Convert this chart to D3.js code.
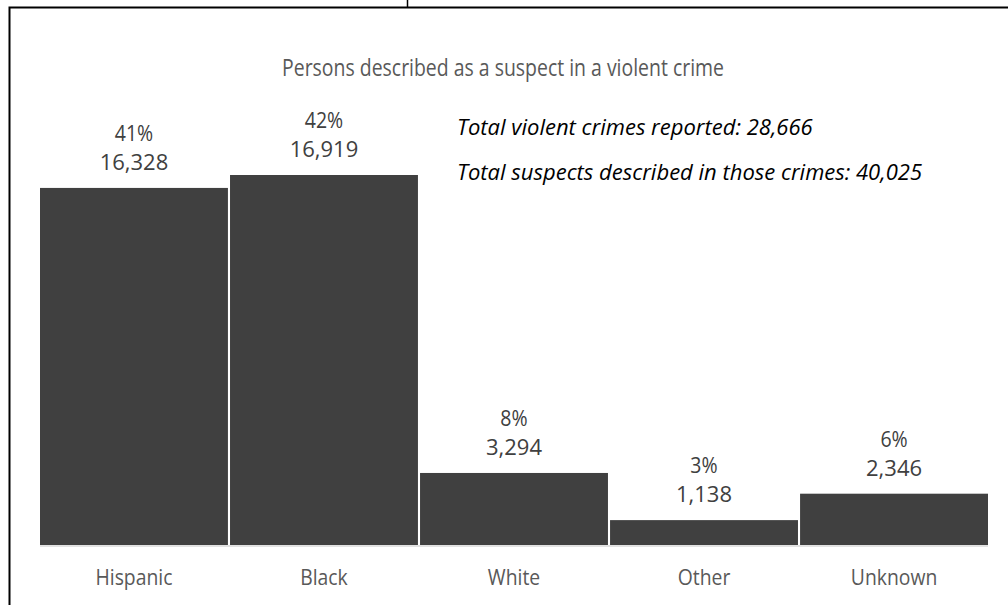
<!DOCTYPE html>
<html>
<head>
<meta charset="utf-8">
<script src="https://cdn.jsdelivr.net/npm/d3@7/dist/d3.min.js"></script>
<style>
  html, body { margin: 0; padding: 0; background: #fff; }
  svg { display: block; font-family: "Open Sans", "DejaVu Sans", sans-serif; }
</style>
</head>
<body>
<svg id="chart" width="1008" height="605"></svg>
<script>
// Suspect descriptions in violent crimes, by group
const categories = ["Hispanic", "Black", "White", "Other", "Unknown"];
const suspects = [16328, 16919, 3294, 1138, 2346];
const shares = ["41%", "42%", "8%", "3%", "6%"];
const chartTitle = "Persons described as a suspect in a violent crime";
const notes = [
  "Total violent crimes reported: 28,666",
  "Total suspects described in those crimes: 40,025"
];

const svg = d3.select("#chart");
const W = 1008, H = 605;
const plot = { left: 40, right: 988, top: 175, bottom: 545 };

// Frame around the chart (runs off the right and bottom edges)
svg.append("rect")
  .attr("x", 9.5).attr("y", 7.5)
  .attr("width", W + 20).attr("height", H + 20)
  .attr("fill", "none").attr("stroke", "#000").attr("stroke-width", 2);
svg.append("line")
  .attr("x1", 407.5).attr("x2", 407.5).attr("y1", 0).attr("y2", 7)
  .attr("stroke", "#000").attr("stroke-width", 1.5);

const x = d3.scaleBand()
  .domain(categories)
  .range([plot.left, plot.right])
  .paddingInner(0.011)
  .paddingOuter(0);

const y = d3.scaleLinear()
  .domain([0, d3.max(suspects)])
  .range([plot.bottom, plot.top]);

// Title (condensed, light grey)
svg.append("g")
  .attr("transform", "translate(503,76)")
  .append("text")
  .attr("transform", "scale(0.81,1)")
  .attr("text-anchor", "middle")
  .attr("font-size", 24)
  .attr("fill", "#595959")
  .text(chartTitle);

// Bars
svg.append("g").selectAll("rect")
  .data(categories)
  .join("rect")
  .attr("x", d => x(d))
  .attr("width", x.bandwidth())
  .attr("y", (d, i) => y(suspects[i]))
  .attr("height", (d, i) => plot.bottom - y(suspects[i]))
  .attr("fill", "#404040");

// Baseline
svg.append("line")
  .attr("x1", plot.left).attr("x2", plot.right)
  .attr("y1", plot.bottom + 1).attr("y2", plot.bottom + 1)
  .attr("stroke", "#d9d9d9").attr("stroke-width", 1.5);

// Category axis
const xAxis = svg.append("g")
  .attr("transform", `translate(0,${plot.bottom})`)
  .call(d3.axisBottom(x).tickSize(0).tickPadding(24.5));
xAxis.select(".domain").remove();
xAxis.selectAll("text")
  .attr("font-family", "'Open Sans', sans-serif")
  .attr("font-size", 21.5)
  .attr("transform", "scale(0.9,1)")
  .attr("fill", "#595959");

// Value labels: share on top, count below
const labels = svg.append("g").selectAll("g")
  .data(categories)
  .join("g")
  .attr("transform", (d, i) => `translate(${x(d) + x.bandwidth() / 2},${y(suspects[i])})`);
labels.append("text")
  .attr("y", -47)
  .attr("text-anchor", "middle")
  .attr("font-size", 21)
  .attr("transform", "scale(0.93,1)")
  .attr("fill", "#404040")
  .text((d, i) => shares[i]);
labels.append("text")
  .attr("y", -18)
  .attr("text-anchor", "middle")
  .attr("font-size", 22)
  .attr("fill", "#404040")
  .text((d, i) => d3.format(",")(suspects[i]));

// Totals notes
svg.append("g").selectAll("text")
  .data(notes)
  .join("text")
  .attr("x", 457)
  .attr("y", (d, i) => 135 + i * 45)
  .attr("font-size", 22)
  .attr("font-style", "italic")
  .attr("fill", "#000")
  .text(d => d);
</script>
</body>
</html>
